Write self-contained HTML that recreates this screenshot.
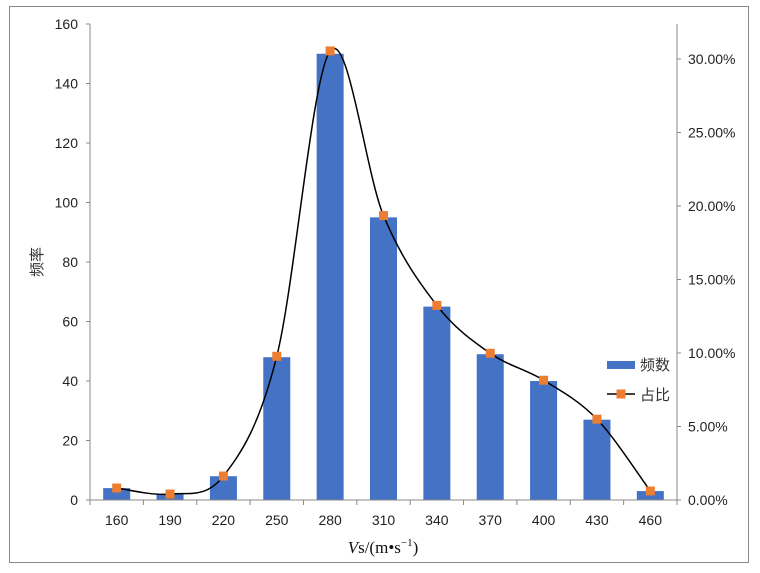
<!DOCTYPE html>
<html><head><meta charset="utf-8"><style>
body{margin:0;background:#fff;}
svg{display:block;font-family:"Liberation Sans","Noto Sans CJK SC",sans-serif;}
</style></head><body>
<svg id="s" width="760" height="573" viewBox="0 0 760 573" xmlns="http://www.w3.org/2000/svg">
<rect x="9.5" y="6.5" width="739" height="556" fill="#fff" stroke="#888" stroke-width="1"/>
<g id="g"></g>
</svg>
<script>
var g=document.getElementById('g'),h='';
var c=[4,2,8,48,150,95,65,49,40,27,3],lab=[160,190,220,250,280,310,340,370,400,430,460];
var L=90,R=677,B=500,w=(R-L)/11,tot=491;
for(var i=0;i<=8;i++){var y=B-i*20*2.975;h+='<line x1="86" x2="'+L+'" y1="'+y+'" y2="'+y+'" stroke="#888"/><text x="78" y="'+(y+5)+'" font-size="14" text-anchor="end" fill="#222">'+(i*20)+'</text>';}
for(var i=0;i<=6;i++){var y=B-i*5*14.7;h+='<line x1="'+R+'" x2="'+(R+4)+'" y1="'+y+'" y2="'+y+'" stroke="#888"/><text x="688" y="'+(y+5)+'" font-size="14" fill="#222">'+(i*5).toFixed(2)+'%</text>';}
var pts=[];
for(var i=0;i<11;i++){var cx=L+w*(i+0.5),bh=c[i]*2.975;h+='<rect x="'+(cx-13.5)+'" y="'+(B-bh)+'" width="27" height="'+bh+'" fill="#4472C4"/>';
h+='<text x="'+cx+'" y="'+(B+25)+'" font-size="14" text-anchor="middle" fill="#222">'+lab[i]+'</text>';
pts.push([cx,B-c[i]/tot*100*14.7]);}
for(var i=0;i<=11;i++){var x=L+w*i;h+='<line x1="'+x+'" x2="'+x+'" y1="'+B+'" y2="'+(B+5)+'" stroke="#888"/>';}
h+='<line x1="'+L+'" x2="'+L+'" y1="24" y2="'+B+'" stroke="#888"/><line x1="'+R+'" x2="'+R+'" y1="24" y2="'+B+'" stroke="#888"/><line x1="'+L+'" x2="'+R+'" y1="'+B+'" y2="'+B+'" stroke="#888"/>';
var d='M'+pts[0][0]+','+pts[0][1];
for(var i=0;i<10;i++){var p0=pts[Math.max(i-1,0)],p1=pts[i],p2=pts[i+1],p3=pts[Math.min(i+2,10)];
d+=' C'+(p1[0]+(p2[0]-p0[0])/6)+','+(p1[1]+(p2[1]-p0[1])/6)+' '+(p2[0]-(p3[0]-p1[0])/6)+','+(p2[1]-(p3[1]-p1[1])/6)+' '+p2[0]+','+p2[1];}
h+='<path d="'+d+'" fill="none" stroke="#000" stroke-width="1.5"/>';
pts.forEach(function(p){h+='<rect x="'+(p[0]-4.5)+'" y="'+(p[1]-4.5)+'" width="9" height="9" fill="#ED7D31"/>';});
h+='<rect x="607" y="361" width="28" height="8" fill="#4472C4"/><text x="640" y="370" font-size="15" fill="#333">频数</text>';
h+='<line x1="607" x2="635" y1="394" y2="394" stroke="#000" stroke-width="1.5"/><rect x="616.5" y="389.5" width="9" height="9" fill="#ED7D31"/><text x="640" y="400" font-size="15" fill="#333">占比</text>';
h+='<text transform="translate(42,262) rotate(-90)" font-size="15" text-anchor="middle" fill="#333">频率</text>';
h+='<text x="383" y="553" font-size="17" text-anchor="middle" font-family="Liberation Serif,serif" fill="#111"><tspan font-style="italic">V</tspan>s/(m•s<tspan font-size="11" dy="-7">−1</tspan><tspan dy="7">)</tspan></text>';
g.innerHTML=h;
</script>
</body></html>
